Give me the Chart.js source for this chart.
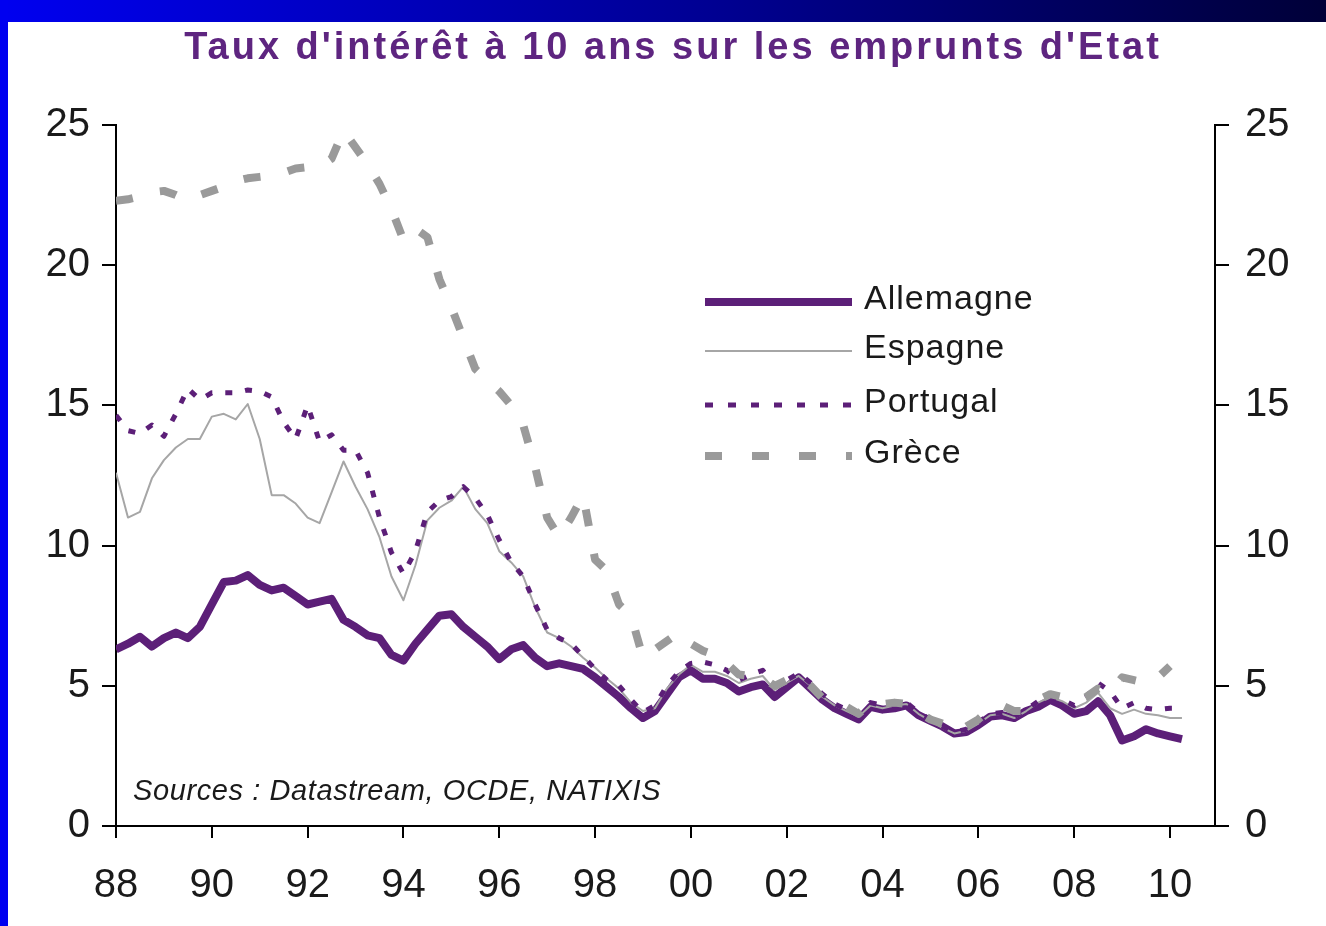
<!DOCTYPE html>
<html>
<head>
<meta charset="utf-8">
<script src="https://cdn.jsdelivr.net/npm/chart.js@4"></script>
<style>
  html, body { margin: 0; padding: 0; background: #fff; }
  #wrap { width: 1326px; height: 926px; }
</style>
</head>
<body>
<div id="wrap"><canvas id="myChart" width="1326" height="926"></canvas></div>
<script>
// quarterly observations, 1988 Q1 -> 2010 Q2
const quarters = [
  1988, 1988.25, 1988.5, 1988.75, 1989, 1989.25, 1989.5, 1989.75,
  1990, 1990.25, 1990.5, 1990.75, 1991, 1991.25, 1991.5, 1991.75,
  1992, 1992.25, 1992.5, 1992.75, 1993, 1993.25, 1993.5, 1993.75,
  1994, 1994.25, 1994.5, 1994.75, 1995, 1995.25, 1995.5, 1995.75,
  1996, 1996.25, 1996.5, 1996.75, 1997, 1997.25, 1997.5, 1997.75,
  1998, 1998.25, 1998.5, 1998.75, 1999, 1999.25, 1999.5, 1999.75,
  2000, 2000.25, 2000.5, 2000.75, 2001, 2001.25, 2001.5, 2001.75,
  2002, 2002.25, 2002.5, 2002.75, 2003, 2003.25, 2003.5, 2003.75,
  2004, 2004.25, 2004.5, 2004.75, 2005, 2005.25, 2005.5, 2005.75,
  2006, 2006.25, 2006.5, 2006.75, 2007, 2007.25, 2007.5, 2007.75,
  2008, 2008.25, 2008.5, 2008.75, 2009, 2009.25, 2009.5, 2009.75,
  2010, 2010.25
];

const allemagne = [
  6.3, 6.5, 6.75, 6.4, 6.7, 6.9, 6.7, 7.1,
  7.9, 8.7, 8.75, 8.95, 8.6, 8.4, 8.5, 8.2,
  7.9, 8.0, 8.1, 7.35, 7.1, 6.8, 6.7, 6.1,
  5.9, 6.5, 7.0, 7.5, 7.55, 7.1, 6.75, 6.4,
  5.95, 6.3, 6.45, 6.0, 5.7, 5.8, 5.7, 5.6,
  5.3, 4.95, 4.6, 4.2, 3.85, 4.1, 4.7, 5.3,
  5.55, 5.25, 5.25, 5.1, 4.8, 4.95, 5.05, 4.6,
  4.95, 5.3, 4.9, 4.5, 4.2, 4.0, 3.8, 4.25,
  4.15, 4.2, 4.3, 3.95, 3.75, 3.55, 3.3, 3.35,
  3.6, 3.9, 3.95, 3.85, 4.1, 4.25, 4.5, 4.3,
  4.0, 4.1, 4.45, 3.95, 3.05, 3.2, 3.45, 3.3,
  3.2, 3.1
];

const espagne = [
  12.6, 11.0, 11.2, 12.4, 13.05, 13.5, 13.8, 13.8,
  14.6, 14.7, 14.5, 15.05, 13.8, 11.8, 11.8, 11.5,
  11.0, 10.8, 11.9, 13.0, 12.1, 11.3, 10.3, 8.9,
  8.05, 9.3, 10.9, 11.35, 11.6, 12.1, 11.3, 10.8,
  9.8, 9.4, 8.9, 7.8, 6.9, 6.7, 6.4, 6.0,
  5.65, 5.25, 4.9, 4.4, 4.1, 4.2, 4.9, 5.4,
  5.75, 5.5, 5.5, 5.35, 5.1, 5.25, 5.35, 4.85,
  5.1, 5.35, 5.0, 4.6, 4.3, 4.1, 3.9, 4.3,
  4.2, 4.3, 4.35, 4.0, 3.75, 3.5, 3.3, 3.4,
  3.65, 3.95, 4.0, 3.85, 4.1, 4.4, 4.6, 4.45,
  4.2, 4.4, 4.75, 4.2, 4.0, 4.15, 4.0, 3.95,
  3.85, 3.85
];

const portugal = [
  14.65, 14.1, 14.0, 14.3, 13.9, 14.7, 15.6, 15.2,
  15.45, 15.45, 15.45, 15.55, 15.5, 15.3, 14.4, 13.8,
  15.0, 13.7, 13.95, 13.4, 13.4, 12.6, 11.0, 9.75,
  9.0, 9.8, 11.2, 11.6, 11.75, 12.1, 11.7, 11.1,
  10.2, 9.4, 8.9, 7.9, 7.0, 6.7, 6.5, 6.05,
  5.6, 5.2, 5.0, 4.5, 4.05, 4.3, 5.0, 5.5,
  5.8, 5.85, 5.75, 5.55, 5.2, 5.4, 5.55, 5.0,
  5.2, 5.45, 5.1, 4.7, 4.35, 4.15, 4.0, 4.4,
  4.3, 4.35, 4.4, 4.05, 3.8, 3.55, 3.35, 3.45,
  3.7, 4.0, 4.05, 3.9, 4.15, 4.45, 4.6, 4.5,
  4.3, 4.6, 5.1, 4.8, 4.2, 4.4, 4.2, 4.15,
  4.2, 4.2
];

const grece = [
  22.3, 22.35, 22.45, 22.6, 22.65, 22.5, 22.3, 22.5,
  22.65, 22.8, 23.0, 23.1, 23.15, 23.2, 23.3, 23.45,
  23.5, 23.5, 23.8, 24.8, 24.2, 23.6, 22.9, 22.0,
  20.9, 21.3, 21.0, 19.5, 18.5, 17.4, 16.3, 15.9,
  15.5, 15.0, 14.3, 12.8, 11.0, 10.3, 11.0, 11.8,
  9.5, 9.1, 7.9, 7.5, 6.0, 6.3, 6.6, 6.9,
  6.5, 6.25, 6.1, 5.8, 5.4, 5.35, 5.3, 5.0,
  5.2, 5.35, 5.0, 4.55, 4.35, 4.25, 4.0, 4.4,
  4.35, 4.4, 4.35, 4.05, 3.8, 3.65, 3.35, 3.55,
  3.8, 4.2, 4.3, 4.1, 4.1, 4.5, 4.7, 4.6,
  4.4, 4.6, 4.9, 4.75, 5.3, 5.2, 5.1, 5.3,
  5.7, null
];

const xTickYears = [1988, 1990, 1992, 1994, 1996, 1998, 2000, 2002, 2004, 2006, 2008, 2010];
const xTickLabels = ['88', '90', '92', '94', '96', '98', '00', '02', '04', '06', '08', '10'];
const yTicks = [0, 5, 10, 15, 20, 25];

const titleText = "Taux d'intérêt à 10 ans sur les emprunts d'Etat";
const sourceText = 'Sources : Datastream, OCDE, NATIXIS';

const purple = '#5c1f78';
const greyLight = '#a6a6a6';
const greyDash = '#9a9a9a';
const fontFam = '"Liberation Sans", Arial, sans-serif';

function toPoints(values) {
  return values.map((v, i) => ({ x: quarters[i], y: v }));
}

const series = [
  { label: 'Allemagne', values: allemagne, color: purple, width: 8, dash: [], order: 3 },
  { label: 'Espagne', values: espagne, color: greyLight, width: 2, dash: [], order: 2 },
  { label: 'Portugal', values: portugal, color: purple, width: 5, dash: [7, 13], order: 1 },
  { label: 'Grèce', values: grece, color: greyDash, width: 8, dash: [17, 28], order: 0 },
];

// blue slide frame + white page
const frame = {
  id: 'frame',
  beforeDraw(chart) {
    const ctx = chart.ctx;
    ctx.save();
    ctx.fillStyle = '#ffffff';
    ctx.fillRect(0, 0, chart.width, chart.height);
    const g = ctx.createLinearGradient(0, 0, chart.width, 0);
    g.addColorStop(0, '#0000f0');
    g.addColorStop(0.55, '#000090');
    g.addColorStop(1, '#000038');
    ctx.fillStyle = g;
    ctx.fillRect(0, 0, chart.width, 22);
    ctx.fillStyle = '#0000f0';
    ctx.fillRect(0, 0, 8, chart.height);
    ctx.restore();
  }
};

// title, legend and source note
const decor = {
  id: 'decor',
  afterDraw(chart) {
    const ctx = chart.ctx;
    ctx.save();
    ctx.fillStyle = '#5e2580';
    ctx.font = 'bold 38px ' + fontFam;
    ctx.letterSpacing = '3px';
    ctx.textAlign = 'center';
    ctx.textBaseline = 'alphabetic';
    ctx.fillText(titleText, 673, 59);

    const rows = [302, 351, 405, 456];
    series.forEach((s, i) => {
      const y = rows[i];
      ctx.beginPath();
      ctx.strokeStyle = s.color;
      ctx.lineWidth = s.width;
      ctx.setLineDash(s.dash.length ? (i === 3 ? [17, 30] : [8, 15]) : []);
      ctx.lineCap = 'butt';
      ctx.moveTo(705, y);
      ctx.lineTo(852, y);
      ctx.stroke();
      ctx.setLineDash([]);
      ctx.fillStyle = '#1a1a1a';
      ctx.font = '34px ' + fontFam;
      ctx.letterSpacing = '1px';
      ctx.textAlign = 'left';
      ctx.textBaseline = 'middle';
      ctx.fillText(s.label, 864, y - 2);
    });

    ctx.font = 'italic 29px ' + fontFam;
    ctx.letterSpacing = '0.6px';
    ctx.fillStyle = '#1a1a1a';
    ctx.textAlign = 'left';
    ctx.textBaseline = 'alphabetic';
    ctx.fillText(sourceText, 133, 800);
    ctx.restore();
  }
};

const yAxisCommon = {
  min: 0,
  max: 25,
  grid: { drawOnChartArea: false, drawTicks: true, tickLength: 14, color: '#000', lineWidth: 2 },
  border: { color: '#000', width: 2 },
  afterBuildTicks: (scale) => { scale.ticks = yTicks.map(v => ({ value: v })); },
};

const mychart = document.getElementById('myChart');

let lineChart = new Chart(mychart, {
  type: 'line',
  data: {
    datasets: series.map(s => ({
      label: s.label,
      data: toPoints(s.values),
      borderColor: s.color,
      borderWidth: s.width,
      borderDash: s.dash,
      borderCapStyle: 'butt',
      borderJoinStyle: 'round',
      pointRadius: 0,
      tension: 0,
      fill: false,
      order: s.order,
    })),
  },
  options: {
    responsive: false,
    animation: false,
    layout: { padding: { top: 125, left: 0, right: 0, bottom: 0 } },
    plugins: {
      legend: { display: false },
      title: { display: false },
      tooltip: { enabled: false },
    },
    scales: {
      x: {
        type: 'linear',
        min: 1988,
        max: 2010.94,
        grid: { drawOnChartArea: false, drawTicks: true, tickLength: 12, color: '#000', lineWidth: 2 },
        border: { color: '#000', width: 2 },
        ticks: {
          padding: 24,
          color: '#1a1a1a',
          font: { family: fontFam, size: 40 },
          maxRotation: 0,
          autoSkip: false,
          callback: (v) => {
            const k = xTickYears.indexOf(v);
            return k >= 0 ? xTickLabels[k] : '';
          },
        },
        afterBuildTicks: (scale) => { scale.ticks = xTickYears.map(v => ({ value: v })); },
        afterFit: (scale) => { scale.height = 100; },
      },
      y: Object.assign({}, yAxisCommon, {
        position: 'left',
        ticks: { padding: 12, color: '#1a1a1a', font: { family: fontFam, size: 40 } },
        afterFit: (scale) => { scale.width = 116; },
      }),
      y2: Object.assign({}, yAxisCommon, {
        position: 'right',
        ticks: { padding: 16, color: '#1a1a1a', font: { family: fontFam, size: 40 } },
        afterFit: (scale) => { scale.width = 111; },
      }),
    },
  },
  plugins: [frame, decor],
});
</script>
</body>
</html>
